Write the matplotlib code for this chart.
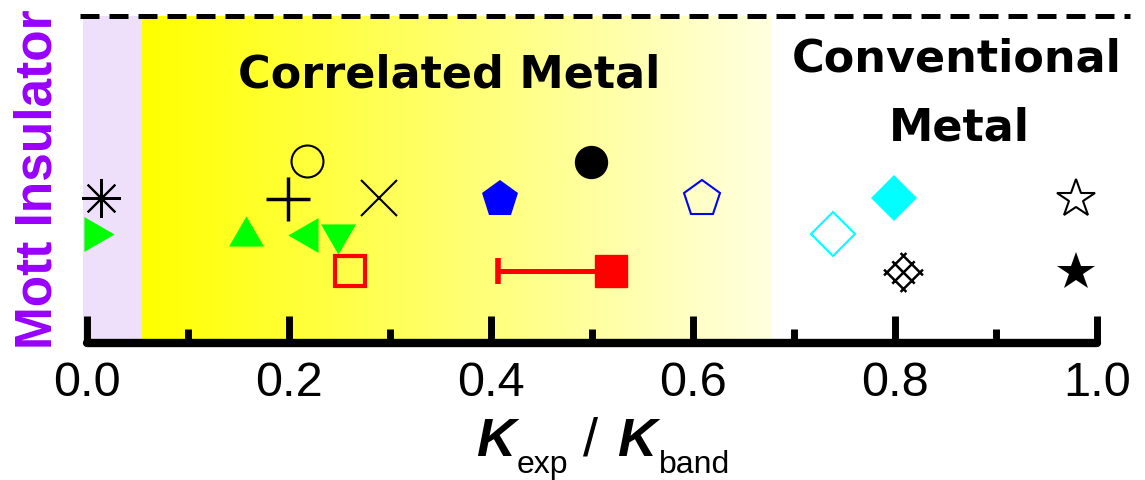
import numpy as np
import matplotlib
matplotlib.use('Agg')
import matplotlib.pyplot as plt
from matplotlib.path import Path

k_ratio = [0.014, 0.007, 0.157, 0.199, 0.218, 0.219, 0.249, 0.260, 0.289,
           0.409, 0.499, 0.609, 0.739, 0.799, 0.808, 0.979, 0.979]
row = [4.43, 3.33, 3.27, 4.40, 5.57, 3.30, 3.33, 2.20, 4.43,
       4.40, 5.53, 4.40, 3.33, 4.43, 2.17, 4.40, 2.17]

# the point with a one-sided error bar
err_ratio = 0.519
err_row = 2.20
err_low = 0.112

# region borders along K_exp / K_band
mott_edge = 0.0545
corr_edge = 0.678

tick_values = [0.0, 0.2, 0.4, 0.6, 0.8, 1.0]
tick_labels = ['0.0', '0.2', '0.4', '0.6', '0.8', '1.0']


def crossed_marker():
    # diamond lattice: 3 lines in each diagonal direction
    verts = []
    codes = []
    b = 1.35
    for c in (-1.0, 0.0, 1.0):
        for (u0, v0), (u1, v1) in [((c, -b), (c, b)), ((-b, c), (b, c))]:
            verts.append(((u0 - v0) / np.sqrt(2), (u0 + v0) / np.sqrt(2)))
            verts.append(((u1 - v1) / np.sqrt(2), (u1 + v1) / np.sqrt(2)))
            codes += [Path.MOVETO, Path.LINETO]
    return Path(verts, codes)


green = '#00FF00'
cyan = '#00FFFF'
styles = [
    dict(marker=(8, 2, 0), ms=28, mec='k', mew=1.5),
    dict(marker=(3, 0, 270), ms=29, mfc=green, mec=green, mew=0),
    dict(marker=(3, 0, 0), ms=29, mfc=green, mec=green, mew=0),
    dict(marker='+', ms=32, mec='k', mew=2.5),
    dict(marker='o', ms=23, mfc='none', mec='k', mew=1.5),
    dict(marker=(3, 0, 90), ms=29, mfc=green, mec=green, mew=0),
    dict(marker=(3, 0, 180), ms=29, mfc=green, mec=green, mew=0),
    dict(marker='s', ms=21, mfc='none', mec='red', mew=3),
    dict(marker='x', ms=26, mec='k', mew=1.5),
    dict(marker='p', ms=28, mfc='blue', mec='blue', mew=0),
    dict(marker='o', ms=24, mfc='k', mec='k', mew=0),
    dict(marker='p', ms=27, mfc='none', mec='blue', mew=1.5),
    dict(marker='D', ms=22, mfc='none', mec=cyan, mew=1.5),
    dict(marker='D', ms=23, mfc=cyan, mec=cyan, mew=0),
    dict(marker=crossed_marker(), ms=28, mfc='none', mec='k', mew=1.8),
    dict(marker='*', ms=29, mfc='white', mec='k', mew=1.5),
    dict(marker='*', ms=29, mfc='k', mec='k', mew=0),
]

W, H = 1145, 480
fig = plt.figure(figsize=(W / 100, H / 100), dpi=100)
ax = fig.add_axes([80 / W, (H - 343) / H, 1050 / W, 327 / H])
ax.set_xlim(-0.0069, 1.0327)
ax.set_ylim(0, 10)

# shaded regions
ax.axvspan(-0.004, mott_edge, color='#EEE0FA', lw=0, zorder=0)
grad = np.zeros((1, 256, 3))
grad[..., 0] = 1.0
grad[..., 1] = 1.0
grad[..., 2] = np.linspace(0.0, 0.88, 256)
ax.imshow(grad, extent=[mott_edge, corr_edge, 0, 10], aspect='auto', zorder=0)

# dashed top line
ax.axhline(10, color='k', lw=3.6, ls=(0, (3.8, 2.0)), clip_on=False, zorder=4)

for x, y, st in zip(k_ratio, row, styles):
    ax.plot([x], [y], ls='none', zorder=3, **st)

ax.errorbar([err_ratio], [err_row], xerr=[[err_low], [0]], fmt='s', ms=23,
            color='red', ecolor='red', elinewidth=3.6, capsize=9.3,
            capthick=4, zorder=3)

# axis styling
for side in ['left', 'right', 'top']:
    ax.spines[side].set_visible(False)
ax.spines['bottom'].set_bounds(0, 1)
ax.spines['bottom'].set_linewidth(6)
ax.spines['bottom'].set_capstyle('round')
ax.spines['bottom'].set_zorder(5)
ax.set_yticks([])
ax.set_xticks(tick_values)
ax.set_xticks(np.arange(0.1, 1.0, 0.2), minor=True)
ax.set_xticklabels(tick_labels, fontsize=35, family='Liberation Sans')
ax.tick_params(axis='x', which='major', direction='in', length=19.5, width=5, pad=13)
ax.tick_params(axis='x', which='minor', direction='in', length=10, width=5)


def fpos(px, py):
    return px / W, 1 - py / H


# region names
fig.text(*fpos(449, 87), 'Correlated Metal', ha='center', va='baseline',
         fontsize=32, fontweight='bold', family='DejaVu Sans')
fig.text(*fpos(957, 72), 'Conventional', ha='center', va='baseline',
         fontsize=32, fontweight='bold', family='DejaVu Sans')
fig.text(*fpos(959, 140), 'Metal', ha='center', va='baseline',
         fontsize=32, fontweight='bold', family='DejaVu Sans')
fig.text(*fpos(52, 179), 'Mott Insulator', ha='center', va='baseline',
         rotation=90, rotation_mode='anchor', color='#9900FF',
         fontsize=37, fontweight='bold', family='Liberation Sans')

# x label: K_exp / K_band
big = dict(fontsize=39, family='Liberation Sans', va='baseline')
small = dict(fontsize=23, family='Liberation Sans', va='baseline')
fig.text(*fpos(476, 456), 'K', fontweight='bold', style='italic', **big)
fig.text(*fpos(517, 473), 'exp', **small)
fig.text(*fpos(583, 456), '/', **big)
fig.text(*fpos(617, 456), 'K', fontweight='bold', style='italic', **big)
fig.text(*fpos(659, 473), 'band', **small)

fig.savefig('out.png', dpi=100, facecolor='white')
